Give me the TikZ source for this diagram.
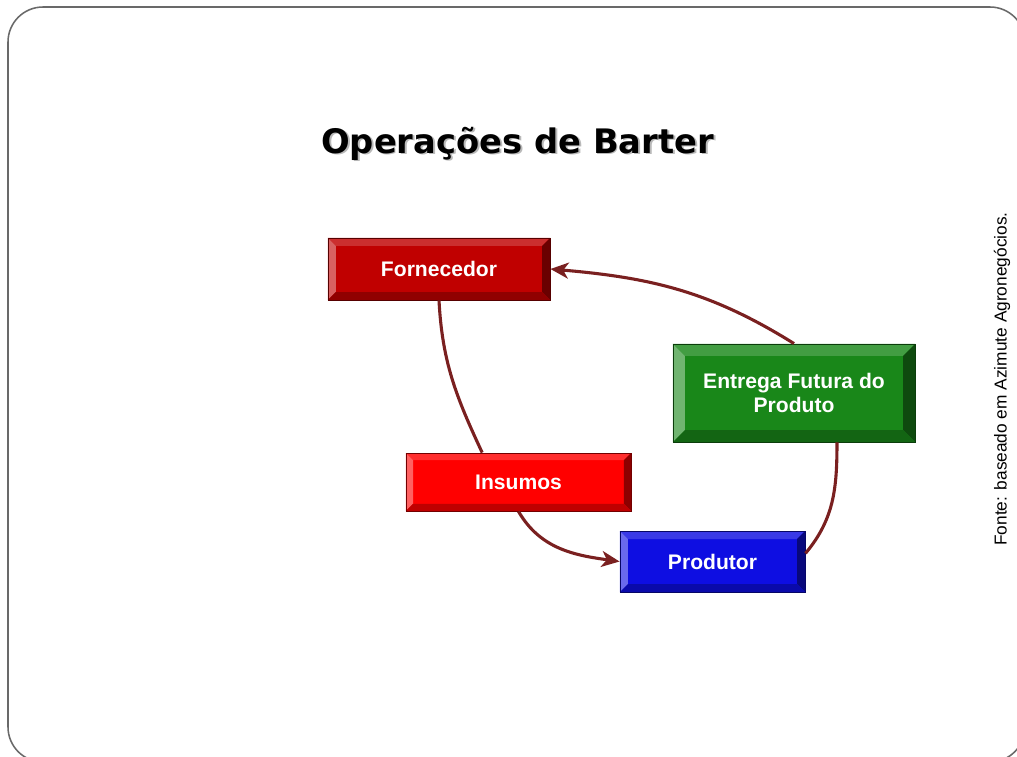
\documentclass[tikz,border=0pt]{standalone}
\usepackage{fontspec}
\setmainfont{Liberation Sans}
\newfontfamily\titlefont{DejaVu Sans}
\usetikzlibrary{arrows.meta}

\definecolor{fornred}{RGB}{192,0,0}
\definecolor{insred}{RGB}{255,0,0}
\definecolor{prodblue}{RGB}{14,14,226}
\definecolor{entgreen}{RGB}{25,135,25}
\definecolor{linkred}{RGB}{122,32,32}
\definecolor{framegray}{RGB}{105,105,105}

% text with a soft grey shadow below right
\newcommand{\shadowed}[1]{\rlap{\kern1.4pt\raisebox{-1.4pt}{\textcolor{gray!55}{#1}}}#1}

\tikzset{
	bevelbox/.style 2 args={rectangle, fill=#1, draw=#1!45!black, line width=0.6pt, text=white, inner sep=0pt, align=center,
		font=\bfseries\fontsize{15}{17.5}\selectfont,
		path picture={
			\fill[#1!82!white] (path picture bounding box.north west) -- (path picture bounding box.north east) -- ([shift={(-#2,-#2)}]path picture bounding box.north east) -- ([shift={(#2,-#2)}]path picture bounding box.north west) -- cycle;
			\fill[#1!62!white] (path picture bounding box.north west) -- (path picture bounding box.south west) -- ([shift={(#2,#2)}]path picture bounding box.south west) -- ([shift={(#2,-#2)}]path picture bounding box.north west) -- cycle;
			\fill[#1!55!black] (path picture bounding box.north east) -- (path picture bounding box.south east) -- ([shift={(-#2,#2)}]path picture bounding box.south east) -- ([shift={(-#2,-#2)}]path picture bounding box.north east) -- cycle;
			\fill[#1!75!black] (path picture bounding box.south west) -- (path picture bounding box.south east) -- ([shift={(-#2,#2)}]path picture bounding box.south east) -- ([shift={(#2,#2)}]path picture bounding box.south west) -- cycle;
		}},
	link/.style={draw=linkred, line width=2.2pt},
	linkarrow/.style={-{Stealth[length=4.5mm, width=4mm, inset=1.3mm]}}
}

\begin{document}
\begin{tikzpicture}[x=0.025cm, y=0.025cm]
	\useasboundingbox (0,0) rectangle (1017,-756);
	\clip (0,0) rectangle (1017,-756);
	\draw[framegray, line width=1.1pt, rounded corners=0.875cm] (8,-7) rectangle (1025,-762);

	\node[anchor=base, font=\titlefont\bfseries\fontsize{24}{28}\selectfont](title) at (517.5,-153){\shadowed{Operações de Barter}};

	\node[bevelbox={fornred}{0.2cm}, minimum width=5.55cm, minimum height=1.55cm](fornecedor) at (439,-269){Fornecedor};
	\node[bevelbox={entgreen}{0.3cm}, minimum width=6.05cm, minimum height=2.45cm](entrega) at (794,-393){Entrega Futura do\\ Produto};
	\node[bevelbox={insred}{0.18cm}, minimum width=5.625cm, minimum height=1.45cm](insumos) at (518.5,-482){Insumos};
	\node[bevelbox={prodblue}{0.2cm}, minimum width=4.625cm, minimum height=1.525cm](produtor) at (712.5,-561.5){Produtor};

	\node[rotate=90, font=\fontsize{12.3}{14}\selectfont](fonte) at (1002,-379){Fonte: baseado em Azimute Agronegócios.};

	\draw[link] (fornecedor.south) to[out=-87, in=115] (insumos.141);
	\draw[link, linkarrow] (insumos.south) to[out=-60, in=172] (produtor.west);
	\draw[link] (produtor.5) to[out=50, in=-90] (entrega.-49);
	\draw[link, linkarrow] (entrega.north) to[out=148, in=-5] (fornecedor.east);
\end{tikzpicture}
\end{document}
